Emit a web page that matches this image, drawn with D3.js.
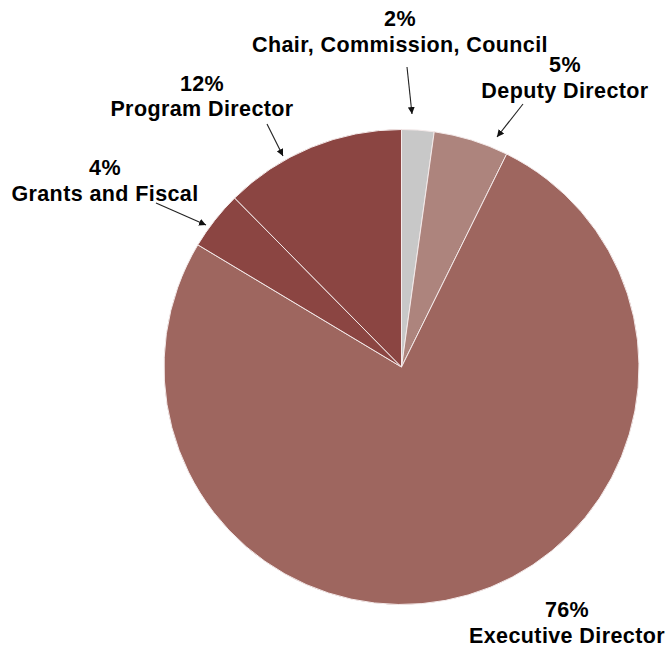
<!DOCTYPE html>
<html><head><meta charset="utf-8">
<script src="https://cdn.jsdelivr.net/npm/d3@7"></script>
<style>body{margin:0;background:#fff}svg{display:block}text{font-family:"Liberation Sans",Arial,sans-serif;font-weight:bold;font-size:21.5px;letter-spacing:0.4px;fill:#000}</style>
</head><body>
<script>
const categories = ["Chair, Commission, Council","Deputy Director","Executive Director","Grants and Fiscal","Program Director"];
const values = [2.2, 5.1, 76.3, 4.0, 12.4];
const pctLabels = ["2%","5%","76%","4%","12%"];
const colors = ["#c8c8c8","#ad847d","#9e665f","#8b4542","#8b4542"];

const W=670,H=648,cx=401.5,cy=367,R=237.5;
const svg=d3.select("body").append("svg").attr("width",W).attr("height",H);
const data=categories.map((c,i)=>({c,v:values[i],p:pctLabels[i],col:colors[i]}));
const pie=d3.pie().value(d=>d.v).sort(null);
const arc=d3.arc().innerRadius(0).outerRadius(R);
const g=svg.append("g").attr("transform",`translate(${cx},${cy})`);
g.selectAll("path").data(pie(data)).join("path").attr("d",arc)
 .attr("fill",d=>d.data.col).attr("stroke","#f4eaea").attr("stroke-width",1);

svg.append("defs").append("marker").attr("id","ah").attr("viewBox","0 0 10 10")
 .attr("refX",10).attr("refY",5).attr("markerWidth",7).attr("markerHeight",7)
 .attr("markerUnits","userSpaceOnUse").attr("orient","auto")
 .append("path").attr("d","M0,0L10,5L0,10z").attr("fill","#111");

// label layout (positions)
const lay=[
 {x:400,y1:26,y2:52,a:[407,67,412,114]},
 {x:565,y1:72,y2:98,a:[523,104,497,137]},
 {x:567,y1:617,y2:643,a:null},
 {x:105,y1:175,y2:201,a:[156,203,206,225]},
 {x:202,y1:91,y2:116,a:[267,124,283,156]}
];
data.forEach((d,i)=>{
 const L=lay[i];
 svg.append("text").attr("x",L.x).attr("y",L.y1).attr("text-anchor","middle").text(d.p);
 svg.append("text").attr("x",L.x).attr("y",L.y2).attr("text-anchor","middle").text(d.c);
 if(L.a) svg.append("line").attr("x1",L.a[0]).attr("y1",L.a[1]).attr("x2",L.a[2]).attr("y2",L.a[3])
   .attr("stroke","#222").attr("stroke-width",1.1).attr("marker-end","url(#ah)");
});
</script>
</body></html>
